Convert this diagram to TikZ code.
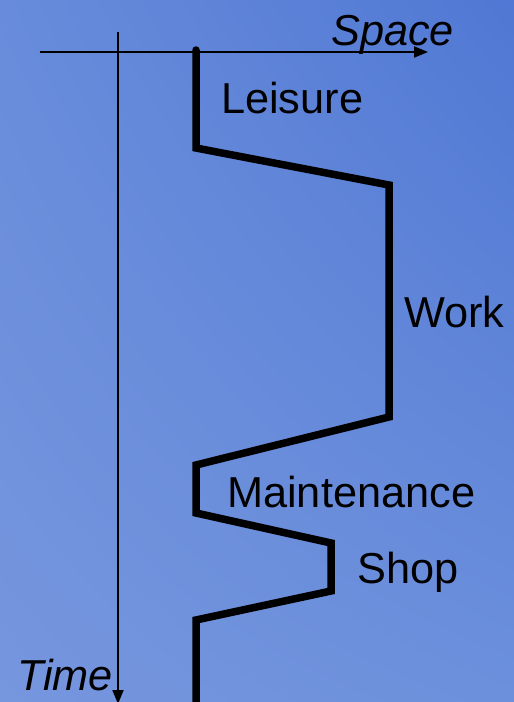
\documentclass[tikz,border=0pt]{standalone}
\usepackage{fontspec}
\setmainfont{Liberation Sans}
\usetikzlibrary{arrows.meta, shadings}
\definecolor{bgtl}{RGB}{104,140,219}
\definecolor{bgtr}{RGB}{80,120,212}
\definecolor{bgbl}{RGB}{118,150,222}
\definecolor{bgbr}{RGB}{108,144,220}

\begin{document}
\begin{tikzpicture}[x=1pt, y=-1pt, font=\fontsize{43.3}{48}\selectfont,
  axis/.style={line width=2pt, -{Triangle[length=14pt,width=11pt]}},
  track/.style={line width=7.5pt, line join=miter, line cap=round},
  lbl/.style={inner sep=0pt, anchor=base west}]
  \useasboundingbox (0,0) rectangle (514,702);
  \shade[upper left=bgtl, upper right=bgtr, lower left=bgbl, lower right=bgbr]
    (0,0) rectangle (514,702);
  \clip (0,0) rectangle (514,702);
  % axes
  \coordinate (sx0) at (40,52);
  \coordinate (sx1) at (428,52);
  \coordinate (tx0) at (118,32);
  \coordinate (tx1) at (118,704);
  \draw[axis] (sx0) -- (sx1);
  \draw[axis] (tx0) -- (tx1);
  \node[lbl, font=\fontsize{43.3}{48}\selectfont\itshape] (space) at (331,45) {Space};
  \node[lbl, font=\fontsize{43.3}{48}\selectfont\itshape] (time) at (17,690) {Time};
  % daily path
  \coordinate (p0) at (196,50);
  \coordinate (p1) at (196,148);
  \coordinate (p2) at (389,185);
  \coordinate (p3) at (389,417);
  \coordinate (p4) at (196,465);
  \coordinate (p5) at (196,513);
  \coordinate (p6) at (331,543);
  \coordinate (p7) at (331,591);
  \coordinate (p8) at (196,620);
  \coordinate (p9) at (196,712);
  \draw[track] (p0) -- (p1) -- (p2) -- (p3) -- (p4) -- (p5) -- (p6) -- (p7) -- (p8) -- (p9);
  % activities
  \node[lbl] (leisure) at (221,113) {Leisure};
  \node[lbl] (work) at (404,327) {Work};
  \node[lbl] (maint) at (227,507) {Maintenance};
  \node[lbl] (shop) at (357,583) {Shop};
\end{tikzpicture}
\end{document}
